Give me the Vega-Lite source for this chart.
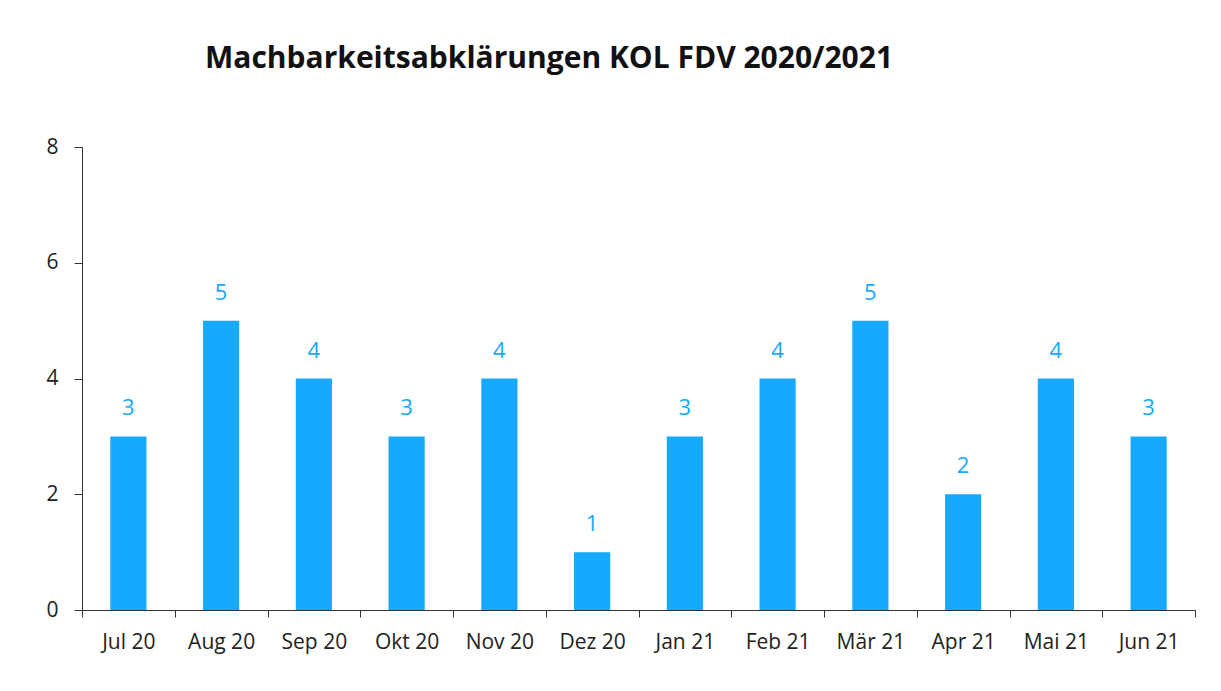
{
  "$schema": "https://vega.github.io/schema/vega-lite/v6.json",
  "autosize": {"type": "none"},
  "width": 1113,
  "height": 463,
  "padding": {"left": 82, "top": 147, "right": 26, "bottom": 81},
  "background": "white",
  "title": {
    "text": "Machbarkeitsabklärungen KOL FDV 2020/2021",
    "anchor": "start",
    "frame": "group",
    "dx": 123,
    "offset": 38,
    "baseline": "alphabetic",
    "font": "Open Sans",
    "fontSize": 30,
    "fontWeight": "bold",
    "color": "#111111"
  },
  "data": {
    "values": [
      {"monat": "Jul 20", "anzahl": 3},
      {"monat": "Aug 20", "anzahl": 5},
      {"monat": "Sep 20", "anzahl": 4},
      {"monat": "Okt 20", "anzahl": 3},
      {"monat": "Nov 20", "anzahl": 4},
      {"monat": "Dez 20", "anzahl": 1},
      {"monat": "Jan 21", "anzahl": 3},
      {"monat": "Feb 21", "anzahl": 4},
      {"monat": "Mär 21", "anzahl": 5},
      {"monat": "Apr 21", "anzahl": 2},
      {"monat": "Mai 21", "anzahl": 4},
      {"monat": "Jun 21", "anzahl": 3}
    ]
  },
  "encoding": {
    "x": {
      "field": "monat",
      "type": "nominal",
      "sort": null,
      "scale": {"paddingInner": 0, "paddingOuter": 0},
      "axis": {
        "title": null,
        "labelAngle": 0,
        "tickBand": "extent",
        "tickSize": 7,
        "tickColor": "#333333",
        "domainColor": "#333333",
        "labelFont": "Open Sans",
        "labelFontSize": 21,
        "labelColor": "#222222",
        "labelPadding": 14,
        "grid": false
      }
    },
    "y": {
      "field": "anzahl",
      "type": "quantitative",
      "scale": {"domain": [0, 8], "nice": false},
      "axis": {
        "title": null,
        "values": [0, 2, 4, 6, 8],
        "tickSize": 8,
        "tickColor": "#333333",
        "domainColor": "#333333",
        "labelFont": "Open Sans",
        "labelFontSize": 21,
        "labelColor": "#222222",
        "labelPadding": 16,
        "grid": false
      }
    }
  },
  "layer": [
    {"mark": {"type": "bar", "color": "#17a9fd", "width": {"band": 0.39}}},
    {
      "mark": {
        "type": "text",
        "color": "#17a9fd",
        "font": "Open Sans",
        "fontSize": 22,
        "baseline": "alphabetic",
        "dy": -21
      },
      "encoding": {"text": {"field": "anzahl", "type": "quantitative"}}
    }
  ],
  "config": {"view": {"stroke": null}}
}
